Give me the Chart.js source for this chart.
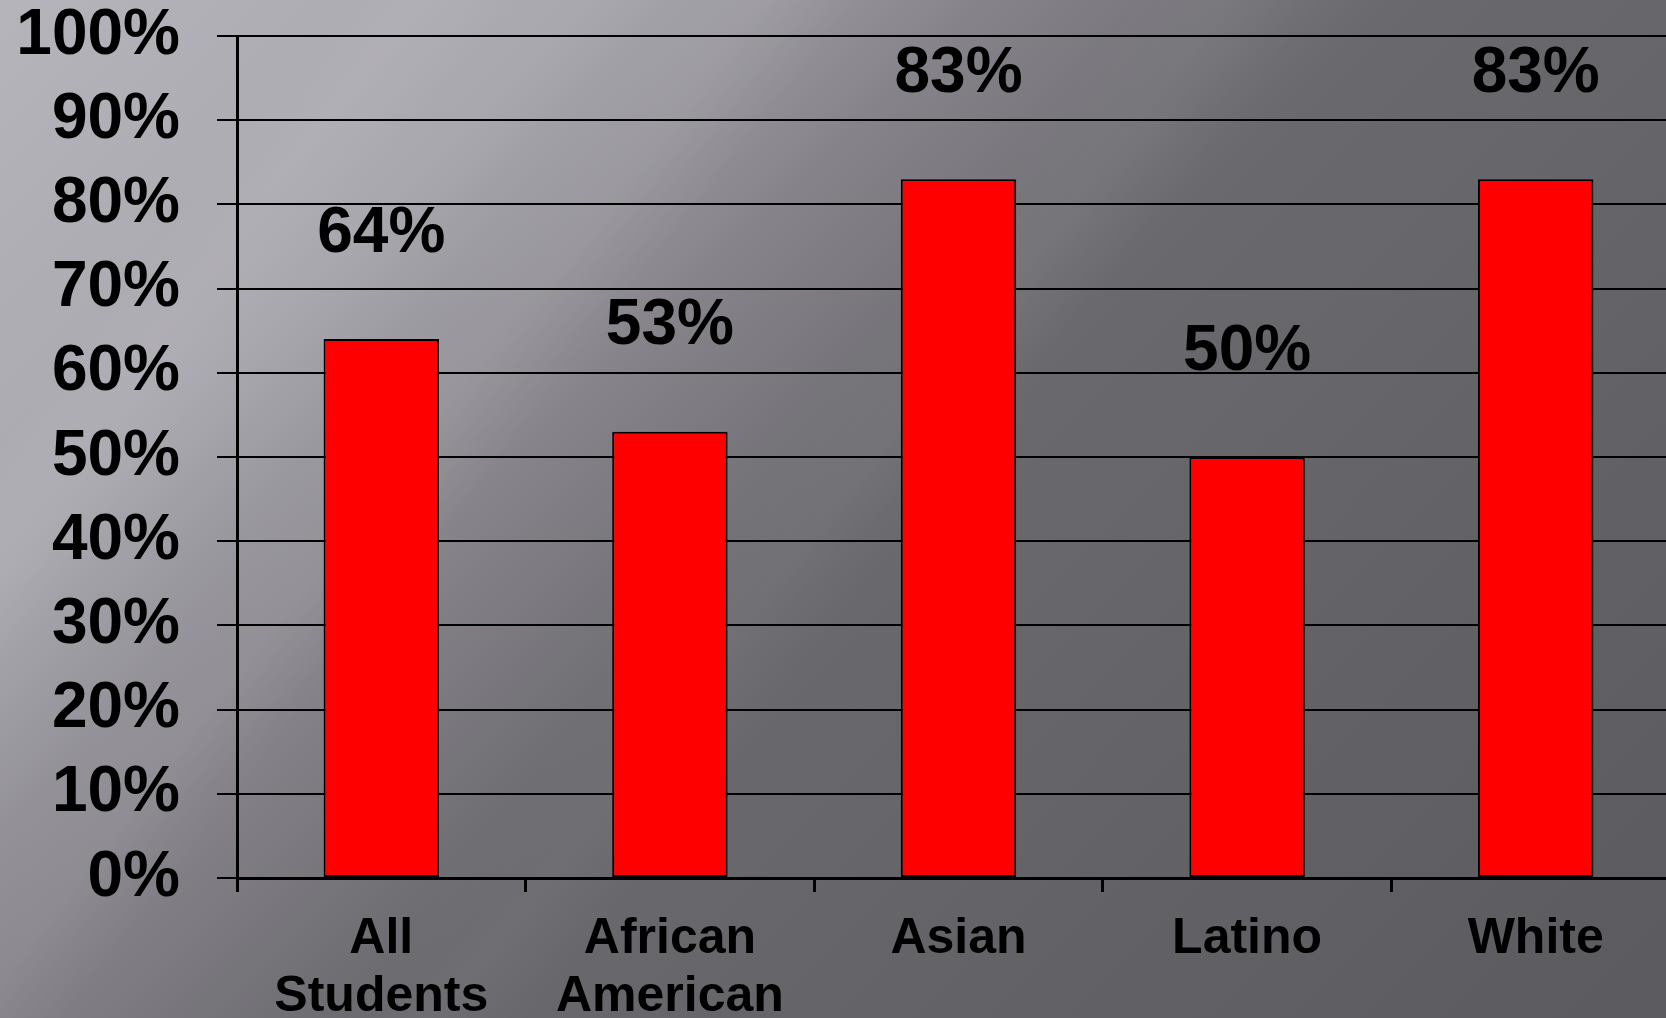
<!DOCTYPE html>
<html>
<head>
<meta charset="utf-8">
<script src="https://cdn.jsdelivr.net/npm/chart.js@4.4.0/dist/chart.umd.min.js"></script>
<style>
  html, body { margin: 0; padding: 0; overflow: hidden; }
  body {
    width: 1666px; height: 1018px;
    background:
      linear-gradient(128deg, rgba(255,255,255,0) 14%, rgba(255,255,255,0.05) 17%, rgba(255,255,255,0) 21%),
      linear-gradient(128deg, rgba(255,255,255,0) 27%, rgba(255,255,255,0.05) 31%, rgba(255,255,255,0) 35%),
      linear-gradient(128deg, rgba(255,255,255,0) 46%, rgba(255,255,255,0.035) 50%, rgba(255,255,255,0) 54%),
      linear-gradient(135deg, #b6b4bb 0%, #aaa8af 22%, #858389 37%, #6a696e 52%, #67666b 61%, #5d5c61 93%, #5c5b60 100%);
  }
  .chart { position: absolute; left: 0; top: 0; width: 1666px; height: 1018px; overflow: hidden; }
</style>
</head>
<body>
<div class="chart"><canvas id="myChart" width="1680" height="1018"></canvas></div>
<script>
const categories = [["All", "Students"], ["African", "American"], "Asian", "Latino", "White"];
const rates = [64, 53, 83, 50, 83];
const yTickLabels = ["0%", "10%", "20%", "30%", "40%", "50%", "60%", "70%", "80%", "90%", "100%"];

const fontFamily = "'Liberation Sans', Arial, sans-serif";

// percent labels floating well above each bar
const barLabels = {
    id: "barLabels",
    afterDatasetsDraw(chart) {
        const ctx = chart.ctx;
        const meta = chart.getDatasetMeta(0);
        ctx.save();
        ctx.font = "bold 64px " + fontFamily;
        ctx.fillStyle = "#000";
        ctx.textAlign = "center";
        ctx.textBaseline = "middle";
        meta.data.forEach((bar, i) => {
            ctx.fillText(rates[i] + "%", bar.x, bar.y - 105);
        });
        ctx.restore();
    }
};

const config = {
    type: "bar",
    data: {
        labels: categories,
        datasets: [
            {
                label: "Rate",
                data: rates,
                backgroundColor: "#ff0000",
                borderColor: "#000",
                borderWidth: 2,
                borderSkipped: false,
                barPercentage: 0.4,
                categoryPercentage: 1
            }
        ]
    },
    options: {
        responsive: false,
        animation: false,
        devicePixelRatio: 1,
        layout: { padding: 0 },
        plugins: {
            legend: { display: false },
            tooltip: { enabled: false }
        },
        scales: {
            x: {
                grid: {
                    offset: true,
                    drawOnChartArea: false,
                    color: "#000",
                    lineWidth: 3,
                    tickLength: 14
                },
                border: { display: true, color: "#000", width: 3 },
                ticks: {
                    color: "#000",
                    padding: 18,
                    maxRotation: 0,
                    autoSkip: false,
                    font: { family: fontFamily, size: 50, weight: "bold", lineHeight: 1.16 }
                },
                afterFit(scale) { scale.height = 140; }
            },
            y: {
                min: 0,
                max: 100,
                grid: {
                    color: "#000",
                    lineWidth: 2,
                    tickLength: 20
                },
                border: { display: true, color: "#000", width: 3 },
                ticks: {
                    stepSize: 10,
                    color: "#000",
                    padding: 37,
                    font: { family: fontFamily, size: 64, weight: "bold", lineHeight: 1.1 },
                    callback: (v, i) => yTickLabels[i]
                },
                afterFit(scale) {
                    scale.width = 237;
                    scale.paddingTop = 36;
                    scale.paddingBottom = 0;
                }
            }
        }
    },
    plugins: [barLabels]
};

new Chart(document.getElementById("myChart"), config);
</script>
</body>
</html>
